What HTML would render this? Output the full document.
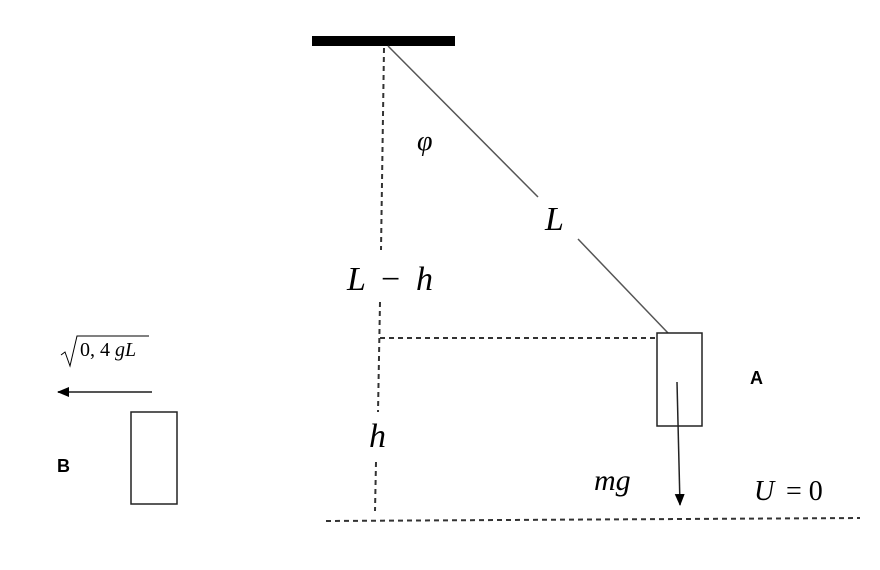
<!DOCTYPE html>
<html><head><style>html,body{margin:0;padding:0;background:#fff}svg{display:block}</style></head>
<body>
<svg width="880" height="570" viewBox="0 0 880 570" xmlns="http://www.w3.org/2000/svg">
<defs><marker id="ah" markerWidth="12" markerHeight="10" refX="11" refY="5" orient="auto" markerUnits="userSpaceOnUse"><path d="M0,0 L12,5 L0,10 z" fill="#000"/></marker></defs>
<rect x="312" y="36" width="143" height="10" fill="#000"/>
<g stroke="#333" stroke-width="2" stroke-dasharray="5,4" fill="none">
<line x1="384" y1="48" x2="381" y2="250"/>
<line x1="380" y1="302" x2="378" y2="412"/>
<line x1="376" y1="462" x2="375" y2="511"/>
<line x1="380" y1="338" x2="657" y2="338"/>
<line x1="326" y1="521" x2="860" y2="518"/>
</g>
<line x1="388" y1="46" x2="538" y2="197" stroke="#555" stroke-width="1.5"/>
<line x1="578" y1="239" x2="668" y2="333" stroke="#555" stroke-width="1.5"/>
<rect x="657" y="333" width="45" height="93" fill="none" stroke="#222" stroke-width="1.5"/>
<rect x="131" y="412" width="46" height="92" fill="none" stroke="#222" stroke-width="1.5"/>
<line x1="677" y1="382" x2="680" y2="505" stroke="#222" stroke-width="1.5" marker-end="url(#ah)"/>
<line x1="152" y1="392" x2="58" y2="392" stroke="#555" stroke-width="2" marker-end="url(#ah)"/>
<g font-family="Liberation Serif, serif" font-style="italic" fill="#000">
<text x="417" y="150" font-size="28">φ</text>
<text x="545" y="230" font-size="34">L</text>
<text x="347" y="290" font-size="34">L</text>
<text x="381" y="290" font-size="34" font-style="normal">−</text>
<text x="416" y="290" font-size="34">h</text>
<text x="369" y="447" font-size="34">h</text>
<text x="594" y="490" font-size="30">mg</text>
<text x="754" y="500" font-size="28">U</text>
<text x="786" y="500" font-size="28" font-style="normal">= 0</text>
<text x="80" y="356" font-size="20"><tspan font-style="normal">0, 4</tspan> gL</text>
</g>
<path d="M61,355 L65,352 L70,366 L77,336 L149,336" fill="none" stroke="#000" stroke-width="1"/>
<g font-family="Liberation Sans, sans-serif" font-weight="bold" font-size="18" fill="#000">
<text x="750" y="384">A</text>
<text x="57" y="472">B</text>
</g>
</svg>
</body></html>
